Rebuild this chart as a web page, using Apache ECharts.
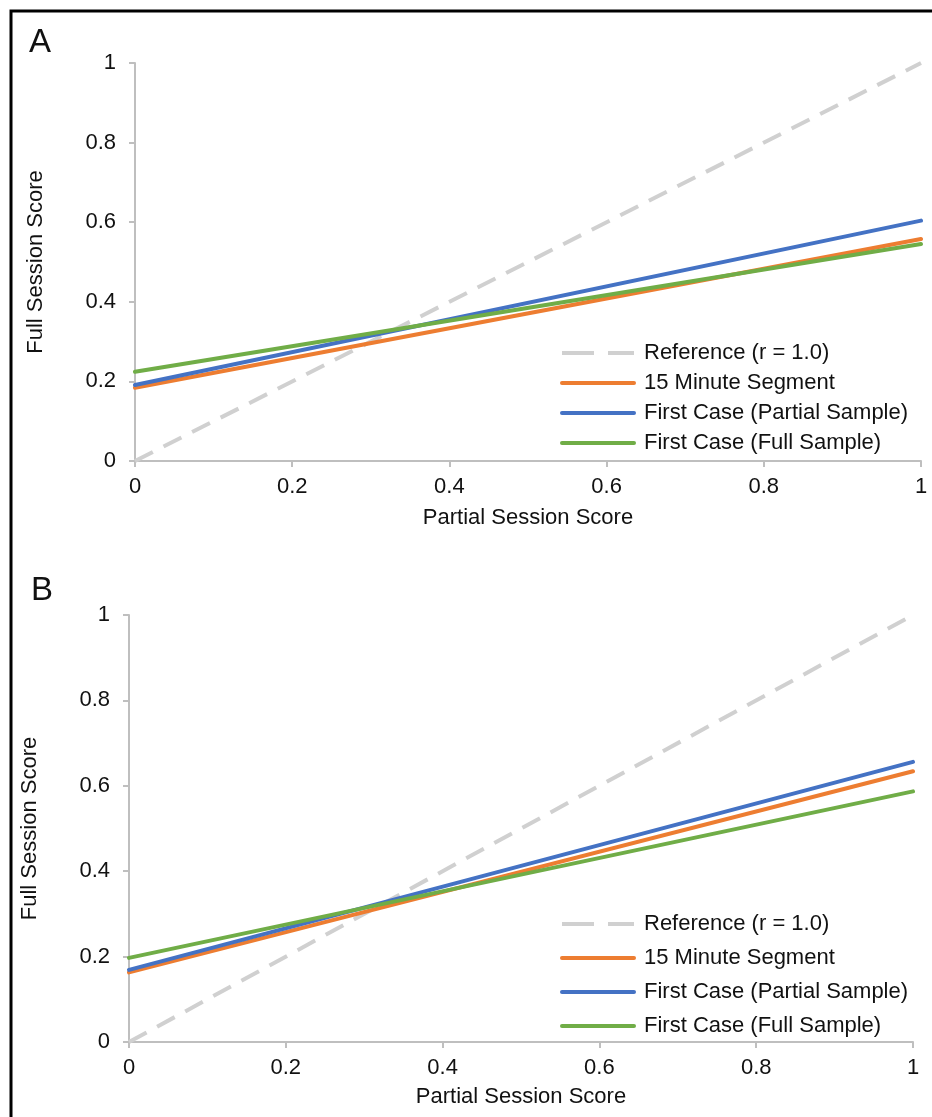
<!DOCTYPE html>
<html>
<head>
<meta charset="utf-8">
<script src="https://cdn.jsdelivr.net/npm/echarts@6/dist/echarts.min.js"></script>
<style>
html,body{margin:0;padding:0;background:#fff;}
#chart{width:932px;height:1117px;}
</style>
</head>
<body>
<div id="chart"></div>
<script>
// Data
var seriesNames = ['Reference (r = 1.0)', '15 Minute Segment', 'First Case (Partial Sample)', 'First Case (Full Sample)'];
var xEnds = [0, 1];
// Panel A: values at x = 0 and x = 1
var refA = [0, 1];
var segA = [0.184, 0.558];
var partA = [0.191, 0.604];
var fullA = [0.224, 0.545];
// Panel B
var refB = [0, 1];
var segB = [0.163, 0.634];
var partB = [0.169, 0.656];
var fullB = [0.197, 0.587];
var tickLabels = ['0', '0.2', '0.4', '0.6', '0.8', '1'];

var colors = ['#d0d0d0', '#ED7D31', '#4472C4', '#70AD47'];
var font = 'Liberation Sans, Arial, sans-serif';
var FS = 22;

function pts(vals) { return xEnds.map(function (x, i) { return [x, vals[i]]; }); }

function mkSeries(vals, idx, gi) {
  var ls = { color: colors[idx], width: 4, cap: 'round' };
  if (idx === 0) { ls.type = [20, 12]; ls.cap = 'butt'; }
  return {
    name: seriesNames[idx], type: 'line', xAxisIndex: gi, yAxisIndex: gi,
    data: pts(vals), symbol: 'none', lineStyle: ls, itemStyle: { color: colors[idx] },
    silent: true, animation: false, z: idx === 0 ? 1 : 2 + idx
  };
}

function axisCommon() {
  return {
    type: 'value', min: 0, max: 1, interval: 0.2,
    axisLine: { show: true, lineStyle: { color: '#bfbfbf', width: 2 } },
    axisTick: { show: true, length: 6, inside: false, lineStyle: { color: '#bfbfbf', width: 2 } },
    splitLine: { show: false },
    axisLabel: { color: '#111', fontSize: FS, fontFamily: font, formatter: function (v) { return tickLabels[Math.round(v * 5)]; } },
    nameTextStyle: { color: '#111', fontSize: FS, fontFamily: font }
  };
}

function xAx(gi) {
  var a = axisCommon();
  a.gridIndex = gi; a.name = 'Partial Session Score'; a.nameLocation = 'middle'; a.nameGap = gi === 0 ? 46 : 44;
  a.axisLabel.margin = 15;
  return a;
}
function yAx(gi) {
  var a = axisCommon();
  a.gridIndex = gi; a.name = 'Full Session Score'; a.nameLocation = 'middle'; a.nameGap = 88;
  a.axisLabel.margin = 19;
  return a;
}

function legendData() {
  return seriesNames.map(function (n, i) {
    var d = { name: n };
    if (i === 0) d.lineStyle = { type: [32, 14], width: 4 };
    return d;
  });
}

function mkLegend(top, gap) {
  return {
    orient: 'vertical', left: 560, top: top, padding: 0, itemWidth: 72, itemHeight: 14, itemGap: gap,
    selectedMode: false, data: legendData(),
    itemStyle: { opacity: 0 },
    lineStyle: { width: 4 },
    textStyle: { fontSize: FS, fontFamily: font, color: '#111', lineHeight: 22, padding: [0, 0, 0, 5] }
  };
}

var chart = echarts.init(document.getElementById('chart'), null, { renderer: 'canvas' });
chart.setOption({
  backgroundColor: '#fff',
  animation: false,
  grid: [
    { left: 135, top: 63, width: 786, height: 398 },
    { left: 129, top: 615, width: 784, height: 427 }
  ],
  xAxis: [xAx(0), xAx(1)],
  yAxis: [yAx(0), yAx(1)],
  legend: [mkLegend(342, 8), mkLegend(913, 12)],
  graphic: [
    { type: 'rect', shape: { x: 11, y: 11, width: 960, height: 1200 }, style: { fill: null, stroke: '#000', lineWidth: 3 }, silent: true },
    { type: 'text', left: 29, top: 26, style: { text: 'A', fontSize: 33, fontFamily: font, fill: '#111' } },
    { type: 'text', left: 31, top: 574, style: { text: 'B', fontSize: 33, fontFamily: font, fill: '#111' } }
  ],
  series: [
    mkSeries(refA, 0, 0), mkSeries(segA, 1, 0), mkSeries(partA, 2, 0), mkSeries(fullA, 3, 0),
    mkSeries(refB, 0, 1), mkSeries(segB, 1, 1), mkSeries(partB, 2, 1), mkSeries(fullB, 3, 1)
  ]
});
</script>
</body>
</html>
